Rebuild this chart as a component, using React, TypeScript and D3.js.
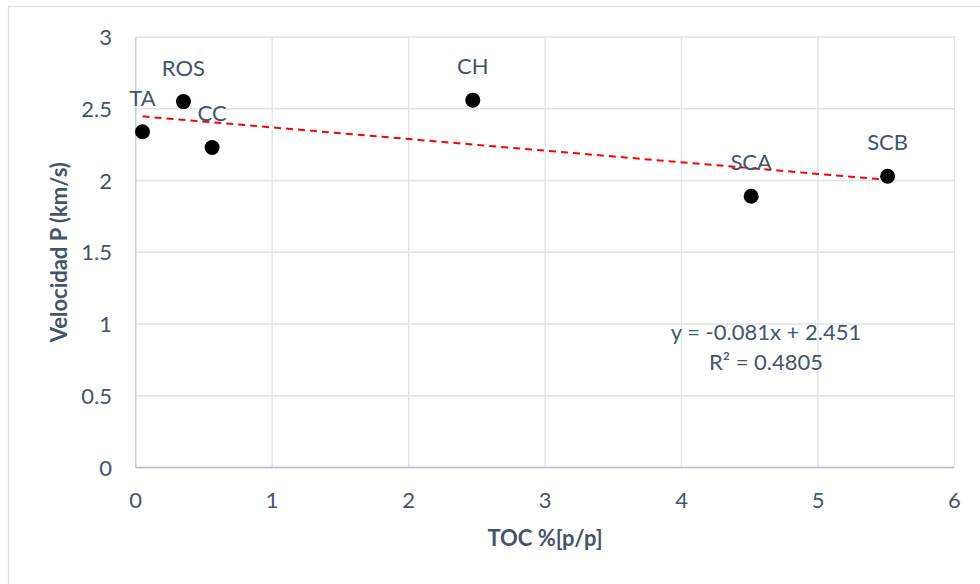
import React from "react";
import * as d3 from "d3";

const sampleNames = ["TA", "ROS", "CC", "CH", "SCA", "SCB"];
const tocValues = [0.05, 0.35, 0.56, 2.47, 4.51, 5.51];
const velocityValues = [2.34, 2.55, 2.23, 2.56, 1.89, 2.03];
const xTicks = [0, 1, 2, 3, 4, 5, 6];
const yTicks = [0, 0.5, 1, 1.5, 2, 2.5, 3];
const trendSlope = -0.081;
const trendIntercept = 2.451;
const equationLines = ["y = -0.081x + 2.451", "R² = 0.4805"];
const xTitle = "TOC %[p/p]";
const yTitle = "Velocidad P (km/s)";

const W = 980;
const H = 584;
const FONT = "Lato, 'Open Sans', sans-serif";
const TEXT = "#44546a";
const FS = 22;

export default function App() {
  const x = d3.scaleLinear().domain([0, 6]).range([135.7, 954.5]);
  const y = d3.scaleLinear().domain([0, 3]).range([467.5, 37]);
  const xMin = d3.min(tocValues) as number;
  const xMax = d3.max(tocValues) as number;
  const trend = d3
    .line<number>()
    .x((d) => x(d))
    .y((d) => y(trendSlope * d + trendIntercept))([xMin, xMax]) as string;

  return (
    <svg
      width={W}
      height={H}
      style={{ position: "absolute", left: 0, top: 0, background: "#fff" }}
      fontFamily={FONT}
    >
      <rect x={8.5} y={6.5} width={W} height={H} fill="#fff" stroke="#dadee5" strokeWidth={1.3} />
      {xTicks.map((t) => (
        <line key={"gx" + t} x1={x(t)} x2={x(t)} y1={y(3)} y2={y(0)} stroke="#dfe2e8" strokeWidth={1.3} />
      ))}
      {yTicks.map((t) => (
        <line key={"gy" + t} x1={x(0)} x2={x(6)} y1={y(t)} y2={y(t)} stroke="#dfe2e8" strokeWidth={1.3} />
      ))}
      <line x1={x(0)} x2={x(0)} y1={y(3)} y2={y(0)} stroke="#c5cad3" strokeWidth={1.3} />
      <line x1={x(0)} x2={x(6)} y1={y(0)} y2={y(0)} stroke="#b9bfc9" strokeWidth={1.5} />
      {xTicks.map((t) => (
        <text key={"tx" + t} x={x(t)} y={507.5} textAnchor="middle" fontSize={FS} fill={TEXT}>
          {t}
        </text>
      ))}
      {yTicks.map((t) => (
        <text key={"ty" + t} x={112} y={y(t) + 8} textAnchor="end" fontSize={FS} fill={TEXT}>
          {t}
        </text>
      ))}
      <path d={trend} fill="none" stroke="#ff0000" strokeWidth={2} strokeDasharray="7,5" />
      {tocValues.map((v, i) => (
        <g key={"p" + i}>
          <circle cx={x(v)} cy={y(velocityValues[i])} r={7.5} fill="#000" />
          <text
            x={x(v)}
            y={y(velocityValues[i]) - 26}
            textAnchor="middle"
            fontSize={FS}
            fill={TEXT}
          >
            {sampleNames[i]}
          </text>
        </g>
      ))}
      {equationLines.map((s, i) => (
        <text key={"eq" + i} x={766} y={340 + i * 30} textAnchor="middle" fontSize={FS} fill={TEXT}>
          {s}
        </text>
      ))}
      <text x={545} y={545.5} textAnchor="middle" fontSize={FS} fontWeight="bold" fill={TEXT}>
        {xTitle}
      </text>
      <text
        transform={`translate(67, ${(y(0) + y(3)) / 2}) rotate(-90)`}
        textAnchor="middle"
        fontSize={FS}
        fontWeight="bold"
        fill={TEXT}
      >
        {yTitle}
      </text>
    </svg>
  );
}
